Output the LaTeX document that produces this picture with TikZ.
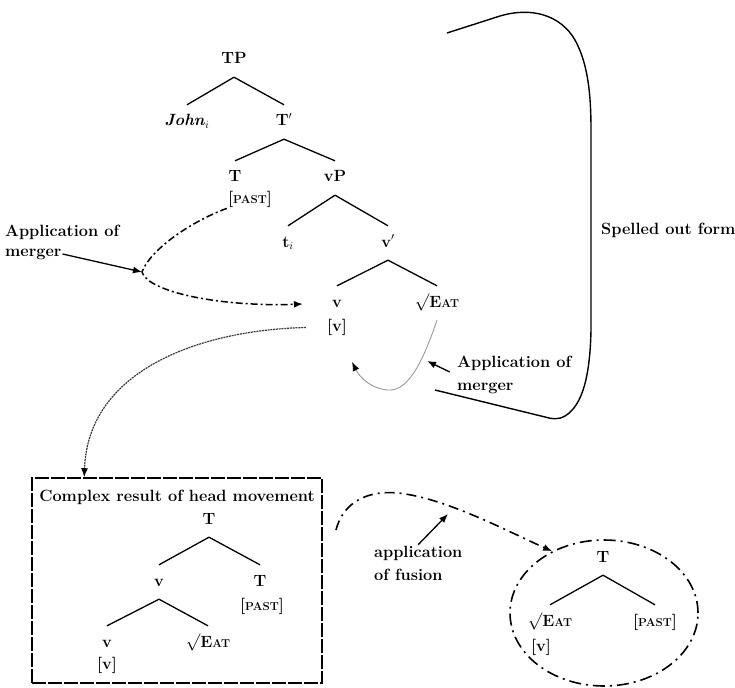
\documentclass[tikz,border=0pt]{standalone}
\usepackage{fontspec}
\usetikzlibrary{arrows.meta,shapes.geometric}
\newcommand\smc[1]{{\fontsize{11.5}{13}\selectfont #1}}
\newcommand\eat{$\surd$E\smc{AT}}
\newcommand\pst{[\smc{PAST}]}
\begin{document}
\begin{tikzpicture}[x=1pt,y=-1pt,
  font=\fontsize{16.3}{23}\selectfont\bfseries,
  tn/.style={inner xsep=1pt, inner ysep=10pt, text height=11pt, text depth=3pt},
  ft/.style={inner sep=1pt},
  lbl/.style={inner sep=1pt, align=left, anchor=west},
  br/.style={line width=1.3pt},
  tip/.style={-{Latex[length=9pt,width=7pt,color=black]}},
  dd/.style={line width=1.5pt, dash pattern=on 7pt off 3pt on 2pt off 3pt},
  fd/.style={line width=1.6pt, dash pattern=on 10pt off 5pt on 2pt off 5pt},
  boxst/.style={line width=1.6pt, dash pattern=on 14pt off 2pt},
  ellst/.style={line width=1.6pt, dash pattern=on 12pt off 5pt on 2pt off 5pt},
  dotc/.style={line width=1.2pt, gray!45!black, dash pattern=on 2pt off 0.8pt},
  loopc/.style={line width=0.9pt, gray!80}
]
\useasboundingbox (0,0) rectangle (735,687);

% ---- top tree ----
\node[tn] (TP) at (234,60) {TP};
\node[tn] (John) at (187,122) {\textit{John}$_i$};
\node[tn] (Tb) at (284,122) {T$'$};
\node[tn] (T) at (235,178) {T};
\node[ft] (Tpast) at (250,199) {\pst};
\node[tn] (vP) at (335,178) {vP};
\node[tn] (t) at (288,243) {t$_i$};
\node[tn] (vb) at (388,243) {v$'$};
\node[tn] (v) at (337,303) {v};
\node[ft] (vf) at (337,327) {[v]};
\node[tn] (Eat) at (437,303) {\eat};

\draw[br] (TP.south) -- (John.north);
\draw[br] (TP.south) -- (Tb.north);
\draw[br] (Tb.south) -- (T.north);
\draw[br] (Tb.south) -- (vP.north);
\draw[br] (vP.south) -- (t.north);
\draw[br] (vP.south) -- (vb.north);
\draw[br] (vb.south) -- (v.north);
\draw[br] (vb.south) -- (Eat.north);

% ---- left merger ----
\node[lbl] (app1a) at (4,232) {Application of};
\node[lbl] (app1b) at (4,254) {merger};
\coordinate (cusp) at (142,272);
\draw[dd,tip,shorten >=28pt] (Tpast.south west) .. controls (190,222) and (150,250) .. (cusp)
   .. controls (148,292) and (220,307) .. (v.west);
\draw[br,tip] (app1b.east) -- (cusp);

% ---- loop and right merger ----
\coordinate (le) at (352,362);
\draw[loopc,tip] (Eat.south) .. controls (425,355) and (410,392) .. (388,390)
   .. controls (372,389) and (360,378) .. (le);
\node[lbl] (app2) at (456,375) {Application of\\merger};
\coordinate (m2) at (427,361);
\draw[br,tip,shorten <=7pt] (app2.west) -- (m2);

% ---- spelled out bracket ----
\coordinate (sa) at (447,33);
\coordinate (sb) at (435,390);
\draw[line width=1.4pt] (sa) -- (500,16) .. controls (530,7) and (560,14) .. (575,40)
   .. controls (587,62) and (591,90) .. (591,130) -- (591,330)
   .. controls (590,375) and (583,405) .. (565,416)
   .. controls (558,420) and (552,419) .. (545,417) -- (sb);
\node[lbl] (sof) at (600,230) {Spelled out form};

% ---- box ----
\node[draw, boxst, minimum width=290pt, minimum height=205pt, inner sep=0pt] (box) at (177,580.5) {};
\node[inner sep=1pt] (title) at (177,497) {Complex result of head movement};
\node[tn] (bT) at (209,520) {T};
\node[tn] (bv) at (159,582) {v};
\node[tn] (bT2) at (260,582) {T};
\node[ft] (bpast) at (262,606) {\pst};
\node[tn] (bv2) at (107,643) {v};
\node[ft] (bvf) at (107,665) {[v]};
\node[tn] (bEat) at (208,643) {\eat};
\draw[br] (bT.south) -- (bv.north);
\draw[br] (bT.south) -- (bT2.north);
\draw[br] (bv.south) -- (bv2.north);
\draw[br] (bv.south) -- (bEat.north);

\draw[dotc,tip,shorten <=20pt] (vf.west) .. controls (200,330) and (88,370) .. ([xshift=53pt]box.north west);

% ---- ellipse ----
\node[draw, ellst, ellipse, minimum width=188pt, minimum height=146pt, inner sep=0pt] (ell) at (604,613) {};
\node[tn] (eT) at (603,558) {T};
\node[tn] (eEat) at (550,622) {\eat};
\node[tn] (ePast) at (655,622) {\pst};
\node[ft] (eVf) at (541,647) {[v]};
\draw[br] (eT.south) -- (eEat.north);
\draw[br] (eT.south) -- (ePast.north);

% ---- fusion ----
\coordinate (fs) at (336,530);
\draw[fd,tip] (fs) .. controls (343,502) and (368,490) .. (398,493)
   .. controls (445,498) and (505,530) .. (ell.130);
\node[lbl] (fl) at (373,563) {application\\of fusion};
\coordinate (fa) at (448,514);
\draw[br,tip] (fl.north) -- (fa);
\end{tikzpicture}
\end{document}
